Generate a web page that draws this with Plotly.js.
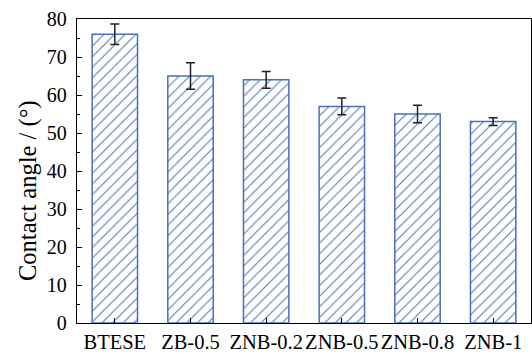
<!DOCTYPE html>
<html><head><meta charset="utf-8">
<script src="https://cdn.plot.ly/plotly-3.0.1.min.js"></script>
<style>body{margin:0;padding:0;background:#fff}#chart{width:532px;height:354px}</style>
</head><body><div id="chart"></div>
<script>
const categories = ["BTESE","ZB-0.5","ZNB-0.2","ZNB-0.5","ZNB-0.8","ZNB-1"];
const contactAngle = [76, 65, 64, 57, 55, 53];
const errorValues = [2.7, 3.5, 2.2, 2.2, 2.3, 1.0];
const yTicks = [0,10,20,30,40,50,60,70,80];
const yTitle = 'Contact angle / (°)';

const blue = '#4a6fbf';
const trace = {
  type: 'bar',
  x: categories,
  y: contactAngle,
  width: 0.6,
  marker: {
    color: 'white',
    line: {color: blue, width: 1.5},
    pattern: {shape: '/', fgcolor: blue, bgcolor: 'white', size: 7.5, solidity: 0.13}
  },
  error_y: {type: 'data', array: errorValues, visible: true, color: '#222', thickness: 1.5, width: 4.5}
};
const fam = '"Liberation Serif", "Times New Roman", serif';
const xfont = {family: fam, size: 20.5, color: '#000'};
const yfont = {family: fam, size: 20, color: '#000'};
const tfont = {family: fam, size: 24.5, color: '#000'};
const layout = {
  width: 532, height: 354,
  margin: {l: 77, r: 1, t: 19, b: 31},
  paper_bgcolor: 'white', plot_bgcolor: 'white',
  showlegend: false,
  font: yfont,
  xaxis: {
    type: 'category', range: [-0.5, 5.5], tickangle: 0,
    showline: true, linecolor: '#000', linewidth: 1.3, mirror: true,
    ticks: 'inside', ticklen: 5, tickcolor: '#000', tickwidth: 1,
    showgrid: false, zeroline: false, tickfont: xfont
  },
  yaxis: {
    range: [0, 80], tickvals: yTicks,
    showline: true, linecolor: '#000', linewidth: 1.3, mirror: true,
    ticks: 'inside', ticklen: 5, tickcolor: '#000', tickwidth: 1,
    ticklabelstandoff: 5,
    minor: {dtick: 5, ticks: 'inside', ticklen: 3, tickcolor: '#000'},
    showgrid: false, zeroline: false, tickfont: yfont
  },
  annotations: [{
    text: yTitle, font: tfont, textangle: -90, showarrow: false,
    xref: 'paper', yref: 'paper', x: -0.108, y: 0.4375,
    xanchor: 'center', yanchor: 'middle'
  }]
};
Plotly.newPlot('chart', [trace], layout, {displayModeBar: false, staticPlot: true});
</script></body></html>
